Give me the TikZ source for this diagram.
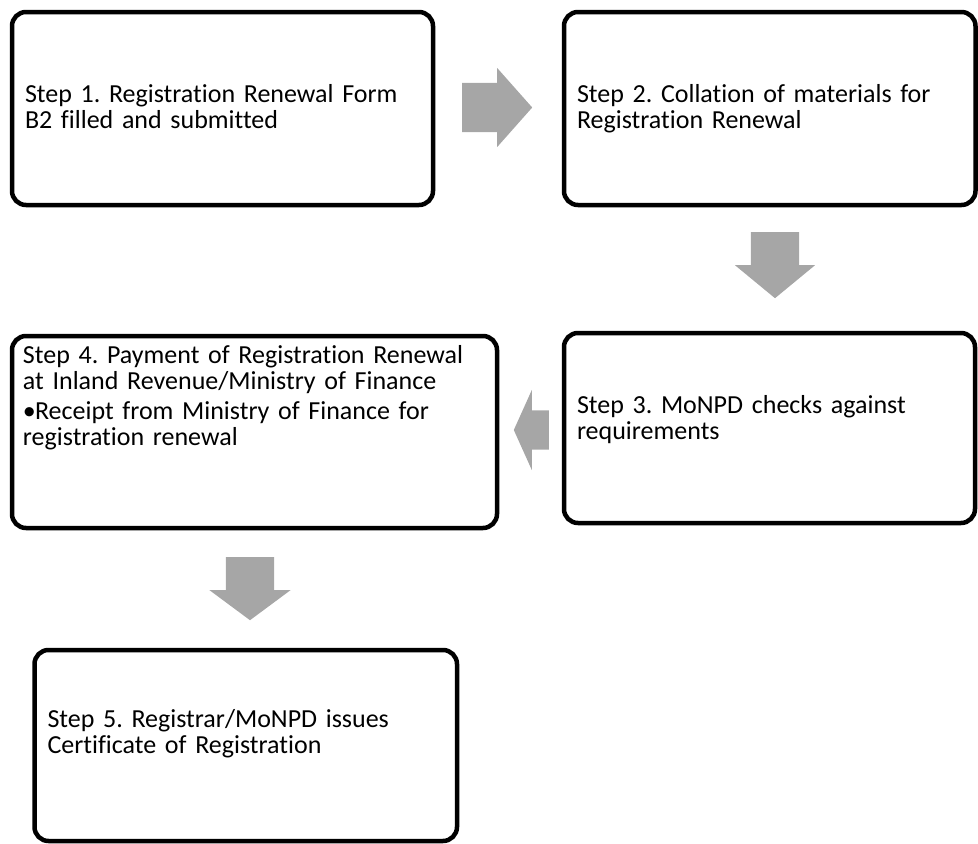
\documentclass[tikz,border=0pt]{standalone}
\usepackage{fontspec}
\setmainfont{Carlito}[Ligatures=NoCommon]
\usetikzlibrary{shapes.arrows}
\definecolor{arrowgray}{HTML}{A6A6A6}
\frenchspacing

\begin{document}
\begin{tikzpicture}[x=1pt, y=-1pt,
      stepbox/.style={draw, line width=4.5pt, rounded corners=14pt, align=left,
        inner xsep=13pt, inner ysep=2pt, text height=18pt,
        font=\fontsize{26}{26}\selectfont},
      flow/.style={single arrow, fill=arrowgray, draw=none, anchor=tail,
        inner xsep=0pt, minimum width=0pt}]
  \useasboundingbox (0,0) rectangle (978,844);
  \node[stepbox, text width=395pt, minimum height=193pt, text depth=31pt] (s1) at (222.5,108.5)
    {Step 1. Registration Renewal Form\\B2 filled and submitted};
  \node[stepbox, text width=385.5pt, minimum height=193pt, text depth=31pt] (s2) at (769.75,108.5)
    {Step 2. Collation of materials for\\Registration Renewal};
  \node[stepbox, text width=385pt, minimum height=190pt, text depth=48pt] (s3) at (769.5,428)
    {Step 3. MoNPD checks against\\requirements};
  \node[stepbox, inner xsep=11pt, text width=463pt, minimum height=192pt, text depth=156pt] (s4) at (254.5,432)
    {Step 4. Payment of Registration Renewal\\at Inland Revenue/Ministry of Finance\par\vspace{4pt}%
     \hangindent=12pt\hangafter=1\noindent\hbox to 12pt{\textbullet\hss}Receipt from Ministry of Finance for\newline registration renewal};
  \node[stepbox, text width=396.5pt, minimum height=191pt, text depth=55pt] (s5) at (245.75,745.5)
    {Step 5. Registrar/MoNPD issues\\Certificate of Registration};
  % block arrows between the steps
  \node[flow, minimum height=70pt, inner ysep=24.5pt, single arrow head extend=15pt,
    single arrow tip angle=96.9] (a12) at (462,107.5) {};
  \node[flow, rotate=-90, minimum height=66pt, inner ysep=24pt, single arrow head extend=16pt,
    single arrow tip angle=101] (a23) at (775,232) {};
  \node[flow, rotate=180, minimum height=35pt, inner ysep=19.5pt, single arrow head extend=20.5pt,
    single arrow tip angle=131.5] (a34) at (549,430) {};
  \node[flow, rotate=-90, minimum height=63pt, inner ysep=24pt, single arrow head extend=16.5pt,
    single arrow tip angle=106.9] (a45) at (250,557) {};
\end{tikzpicture}
\end{document}
